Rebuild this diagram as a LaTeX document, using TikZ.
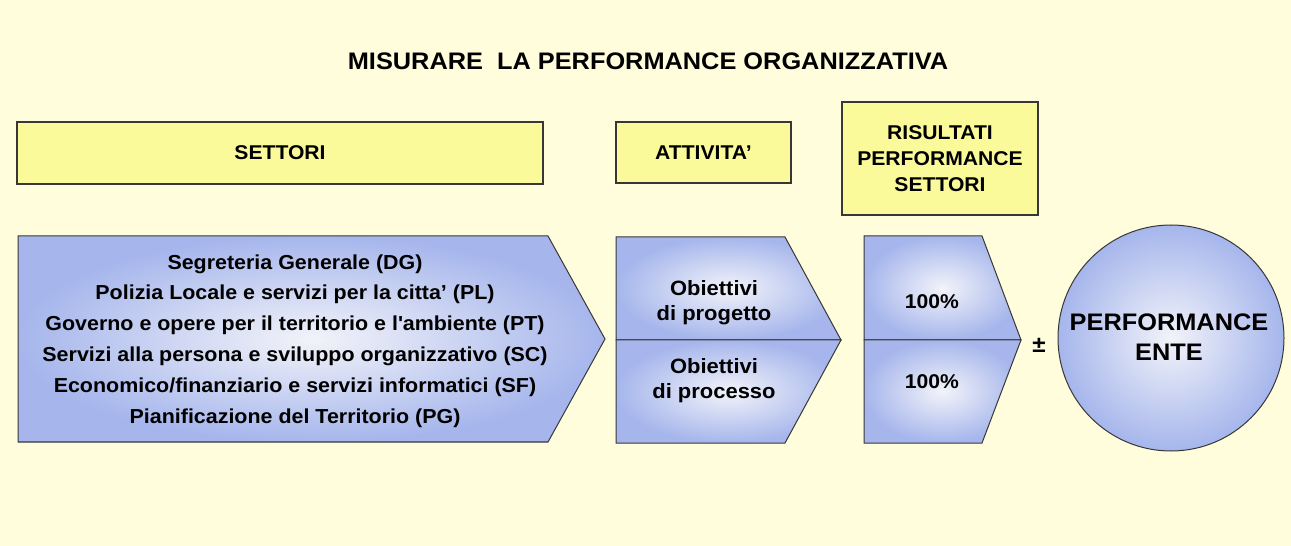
\documentclass[tikz,border=0pt]{standalone}
\usepackage{fontspec}
\setmainfont{Liberation Sans}[FakeStretch=1.06]
\definecolor{bgc}{RGB}{255,253,220}
\definecolor{yfill}{RGB}{251,250,155}
\definecolor{edgec}{RGB}{55,55,55}
\definecolor{blueout}{RGB}{166,182,236}
\definecolor{bluein}{RGB}{242,243,249}
\tikzset{
  ybox/.style={draw=edgec, line width=1.2bp, fill=yfill, inner sep=0pt, align=center, font=\bfseries\fontsize{20}{26}\selectfont},
  bshape/.style={draw=edgec, line width=1bp, inner color=bluein, outer color=blueout},
  lbl/.style={align=center, inner sep=0pt, text=black},
}
\begin{document}
\begin{tikzpicture}[x=1bp,y=-1bp]
\fill[bgc] (0,0) rectangle (1291,546);
\useasboundingbox (0,0) rectangle (1291,546);

\node[lbl, font=\bfseries\fontsize{24}{28}\selectfont] (title) at (648,61) {MISURARE\ \ LA PERFORMANCE ORGANIZZATIVA};

\node[ybox, minimum width=526bp, minimum height=62bp] (settori) at (280,153) {SETTORI};
\node[ybox, minimum width=175bp, minimum height=61bp] (attivita) at (703.5,152.5) {ATTIVITA’};
\node[ybox, minimum width=196bp, minimum height=113bp] (risultati) at (940,158.5) {RISULTATI\\PERFORMANCE\\SETTORI};

% settori arrow
\draw[bshape] (18,236) -- (548,236) -- (605,339) -- (548,442) -- (18,442) -- cycle;
\node[lbl, font=\bfseries\fontsize{20.3}{31}\selectfont] (settlist) at (295,341) {Segreteria Generale (DG)\\
Polizia Locale e servizi per la citta’ (PL)\\
Governo e opere per il territorio e l\textquotesingle ambiente (PT)\\
Servizi alla persona e sviluppo organizzativo (SC)\\
Economico/finanziario e servizi informatici (SF)\\
Pianificazione del Territorio (PG)};

% attivita arrow
\draw[bshape] (616,237) -- (785,237) -- (841,340) -- (616,340) -- cycle;
\draw[bshape] (616,340) -- (841,340) -- (785,443) -- (616,443) -- cycle;
\node[lbl, font=\bfseries\fontsize{20.8}{25}\selectfont] (progetto) at (714,302.5) {Obiettivi\\di progetto};
\node[lbl, font=\bfseries\fontsize{20.8}{25}\selectfont] (processo) at (714,380.5) {Obiettivi\\di processo};

% risultati arrow
\draw[bshape] (864,236) -- (982,236) -- (1021,340) -- (864,340) -- cycle;
\draw[bshape] (864,340) -- (1021,340) -- (982,443) -- (864,443) -- cycle;
\node[lbl, font=\bfseries\fontsize{20}{24}\selectfont] (pct1) at (932,302) {100\%};
\node[lbl, font=\bfseries\fontsize{20}{24}\selectfont] (pct2) at (932,382) {100\%};

\node[lbl, font=\bfseries\fontsize{23}{24}\selectfont] (pm) at (1039,345) {±};

\node[circle, bshape, minimum size=226bp, inner sep=0pt] (ente) at (1171,338) {};
\node[lbl, font=\bfseries\fontsize{24}{30}\selectfont] (entetext) at (1169,337) {PERFORMANCE\\ENTE};
\end{tikzpicture}
\end{document}
